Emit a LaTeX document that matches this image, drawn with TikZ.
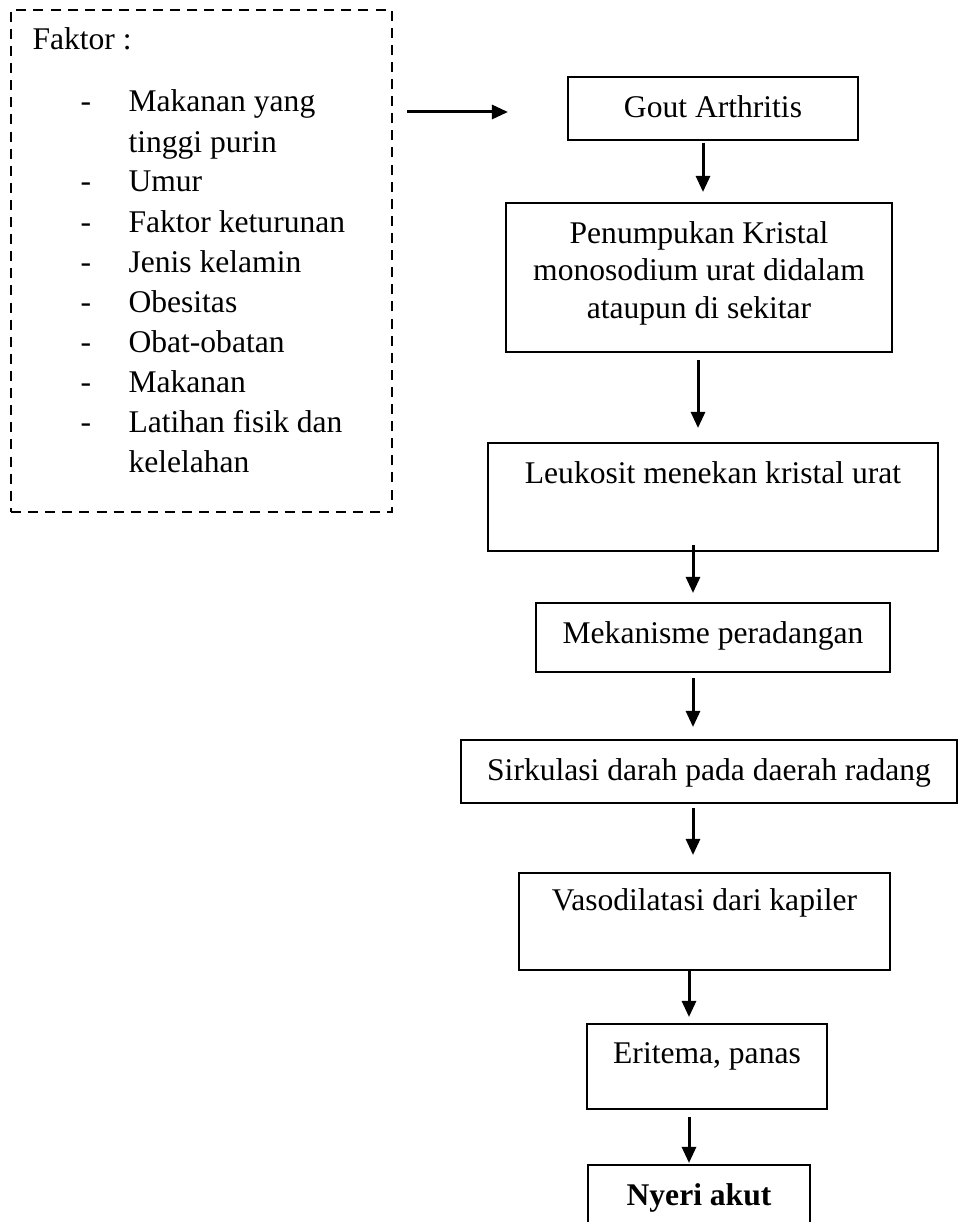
\documentclass[tikz,border=0pt]{standalone}
\usepackage{fontspec}
\setmainfont{Liberation Serif}
\usetikzlibrary{calc}
\usetikzlibrary{arrows.meta}
\def\px{0.38pt}

\begin{document}
\begin{tikzpicture}[x=\px,y=-\px]
	\tikzstyle{kotak}=[draw=black,line width=0.76pt,anchor=north,inner ysep=0pt,inner xsep=0pt,outer sep=0pt,font=\fontsize{12pt}{14.4pt}\selectfont];
	\tikzstyle{putus}=[draw=black,line width=0.76pt,dash pattern=on 3.8pt off 2.7pt,inner sep=0pt,outer sep=0pt];
	\tikzstyle{teks}=[anchor=base west,inner sep=0pt,font=\fontsize{12pt}{14.4pt}\selectfont];
	\tikzstyle{panah}=[line width=1.14pt,-{Triangle[length=6.1pt,width=5.3pt]}];
	\useasboundingbox (0,0) rectangle (959,1222);
	\clip (0,0) rectangle (959,1222);
	%% Faktor
	\node[putus,minimum width=381*\px,minimum height=502*\px] (faktor) at (201.5,261) {};
	\node[teks] (judul) at (32,50) {Faktor :};
	\foreach \baris/\isi in {0/Makanan yang,1/tinggi purin,2/Umur,3/Faktor keturunan,4/Jenis kelamin,
		5/Obesitas,6/Obat-obatan,7/Makanan,8/Latihan fisik dan,9/kelelahan}
		\node[teks] (isi\baris) at (128,{112+40*\baris}) {\isi};
	\foreach \baris in {0,2,3,4,5,6,7,8}
		\node[teks] (tanda\baris) at (80,{112+40*\baris}) {-};
	\coordinate (ujung) at (508,112);
	\draw[panah,shorten <=5.7pt] (faktor.east |- ujung) -- (ujung);
	%% Alur
	\node[kotak,minimum width=290*\px,text height=15.58pt,text depth=8.36pt] (gout) at (713,77) {Gout Arthritis};
	\node[kotak,minimum width=386*\px,text height=15.2pt,text depth=41.42pt] (kristal) at (699,203)
		{\begin{tabular}[t]{@{}c@{}}Penumpukan Kristal\\monosodium urat didalam\\ataupun di sekitar\end{tabular}};
	\node[kotak,minimum width=450*\px,text height=15.2pt,text depth=25.84pt] (leukosit) at (713,443) {Leukosit menekan kristal urat};
	\node[kotak,minimum width=354*\px,text height=15.2pt,text depth=11.02pt] (radang) at (713,603) {Mekanisme peradangan};
	\node[kotak,minimum width=496*\px,text height=15.2pt,text depth=8.74pt] (sirkulasi) at (709,740) {Sirkulasi darah pada daerah radang};
	\node[kotak,minimum width=371*\px,text height=14.06pt,text depth=22.8pt] (vaso) at (704.5,873) {Vasodilatasi dari kapiler};
	\node[kotak,minimum width=240*\px,text height=14.82pt,text depth=17.48pt] (eritema) at (707,1024) {Eritema, panas};
	\node[kotak,minimum width=222*\px,text height=15.2pt,text depth=13.3pt] (nyeri) at (699,1165) {\textbf{Nyeri akut}};
	%% Panah
	\foreach \dari/\ke/\xa/\ya/\xb/\yb in {gout/kristal/-10/3/4/-11, kristal/leukosit/-1/8/-15/-15,
		leukosit/radang/-20/-6/-20/-10, radang/sirkulasi/-20/6/-16/-13, sirkulasi/vaso/-16/5/-11.5/-18,
		vaso/eritema/-15.5/0/-18/-7, eritema/nyeri/-18/8/-10/-2}
		\draw[panah] ($(\dari.south)+(\xa,\ya)$) -- ($(\ke.north)+(\xb,\yb)$);
\end{tikzpicture}
\end{document}
